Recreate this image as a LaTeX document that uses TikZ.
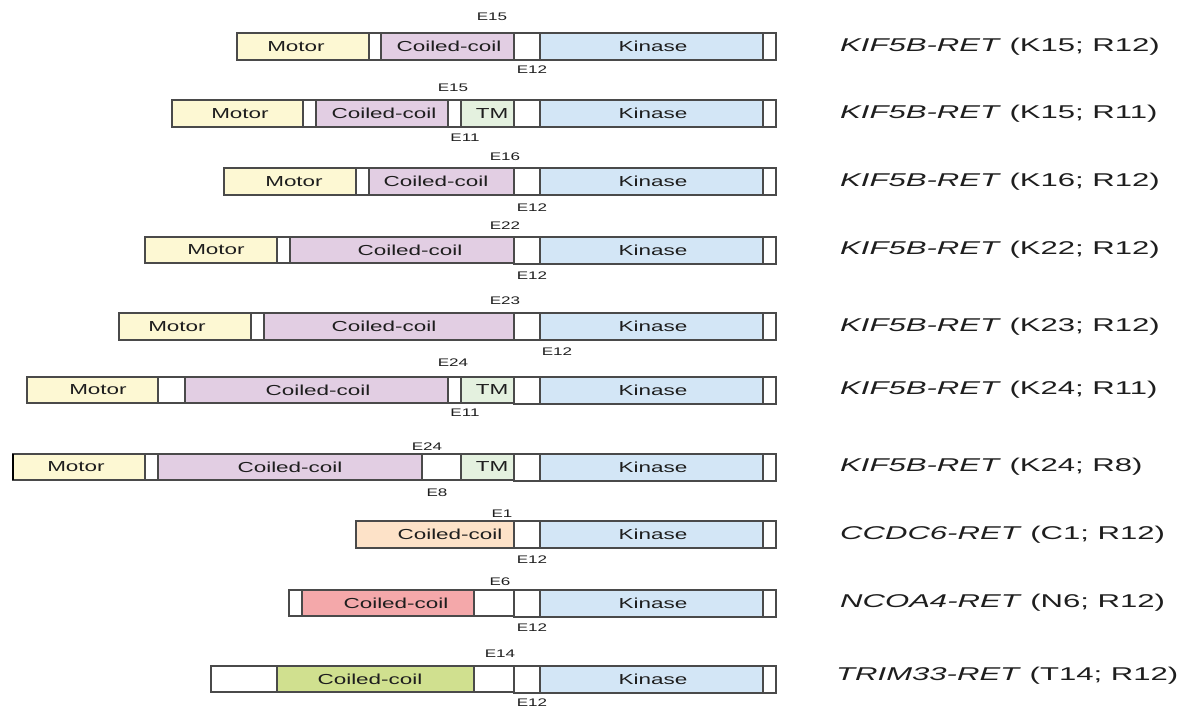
\documentclass[tikz,border=0pt]{standalone}
\usepackage{fontspec}
\setmainfont{Liberation Sans}[FakeStretch=1.55]
\newfontfamily\labfont{Liberation Sans}[FakeStretch=1.68]
\usepackage{tikz}
\usetikzlibrary{positioning}

\definecolor{motorc}{HTML}{FDF8D3}
\definecolor{coilc}{HTML}{E2CEE3}
\definecolor{kinc}{HTML}{D3E6F6}
\definecolor{tmc}{HTML}{E4F1DF}
\definecolor{ccdcc}{HTML}{FDE2C8}
\definecolor{ncoac}{HTML}{F4A8AA}
\definecolor{trimc}{HTML}{D0E08F}
\definecolor{edgec}{HTML}{4A4A4A}
\definecolor{txtc}{HTML}{1E1E1E}

\tikzset{
  seg/.style={draw=edgec, line width=1.3pt},
  boxtext/.style={font=\fontsize{14.5}{16}\selectfont, text=txtc, inner sep=0pt},
  exon/.style={font=\fontsize{11}{12}\selectfont, text=txtc, inner sep=0pt},
  fusion/.style={anchor=west, font=\labfont\fontsize{18.5}{20}\selectfont, text=txtc, inner sep=0pt}
}

\begin{document}
\begin{tikzpicture}[x=1pt, y=-1pt]
        \useasboundingbox (0,0) rectangle (1181,709);

        % RET part, the same in every row
        \foreach \t/\n in {33/1,100/2,168/3,237/4,313/5,377/6,454/7,521/8,590/9,666/10} {
            \draw[seg, fill=white] (514,\t) rectangle (540,\t+27);
            \draw[seg, fill=kinc] (540,\t) rectangle (763,\t+27);
            \draw[seg, fill=white] (763,\t) rectangle (776,\t+27);
            \node[boxtext] (kin\n) at (653,\t+13.5) {Kinase};
        }

        % Row 1: KIF5B-RET (K15; R12)
        \draw[seg, fill=motorc] (237,33) rectangle (369,60);
        \draw[seg, fill=white] (369,33) rectangle (381,60);
        \draw[seg, fill=coilc] (381,33) rectangle (514,60);
        \node[boxtext] (mot1) at (296,46.5) {Motor};
        \node[boxtext] (cc1) at (449,46.5) {Coiled-coil};
        \node[exon] (up1) at (492,17) {E15};
        \node[exon] (dn1) at (532,70) {E12};
        \node[fusion] (f1) at (840,46.5) {\textit{KIF5B-RET} (K15; R12)};

        % Row 2: KIF5B-RET (K15; R11)
        \draw[seg, fill=motorc] (172,100) rectangle (303,127);
        \draw[seg, fill=white] (303,100) rectangle (316,127);
        \draw[seg, fill=coilc] (316,100) rectangle (448,127);
        \draw[seg, fill=white] (448,100) rectangle (461,127);
        \draw[seg, fill=tmc] (461,100) rectangle (514,127);
        \node[boxtext] (mot2) at (240,113.5) {Motor};
        \node[boxtext] (cc2) at (384,113.5) {Coiled-coil};
        \node[boxtext] (tm2) at (492,113.5) {TM};
        \node[exon] (up2) at (453,88) {E15};
        \node[exon] (dn2) at (465,138) {E11};
        \node[fusion] (f2) at (840,113.5) {\textit{KIF5B-RET} (K15; R11)};

        % Row 3: KIF5B-RET (K16; R12)
        \draw[seg, fill=motorc] (224,168) rectangle (356,195);
        \draw[seg, fill=white] (356,168) rectangle (369,195);
        \draw[seg, fill=coilc] (369,168) rectangle (514,195);
        \node[boxtext] (mot3) at (294,181.5) {Motor};
        \node[boxtext] (cc3) at (436,181.5) {Coiled-coil};
        \node[exon] (up3) at (505,157) {E16};
        \node[exon] (dn3) at (532,208) {E12};
        \node[fusion] (f3) at (840,181.5) {\textit{KIF5B-RET} (K16; R12)};

        % Row 4: KIF5B-RET (K22; R12)
        \draw[seg, fill=motorc] (145,237) rectangle (277,263);
        \draw[seg, fill=white] (277,237) rectangle (290,263);
        \draw[seg, fill=coilc] (290,237) rectangle (514,263);
        \node[boxtext] (mot4) at (216,250) {Motor};
        \node[boxtext] (cc4) at (410,250) {Coiled-coil};
        \node[exon] (up4) at (505,226) {E22};
        \node[exon] (dn4) at (532,276) {E12};
        \node[fusion] (f4) at (840,250) {\textit{KIF5B-RET} (K22; R12)};

        % Row 5: KIF5B-RET (K23; R12)
        \draw[seg, fill=motorc] (119,313) rectangle (251,340);
        \draw[seg, fill=white] (251,313) rectangle (264,340);
        \draw[seg, fill=coilc] (264,313) rectangle (514,340);
        \node[boxtext] (mot5) at (177,326.5) {Motor};
        \node[boxtext] (cc5) at (384,326.5) {Coiled-coil};
        \node[exon] (up5) at (505,301) {E23};
        \node[exon] (dn5) at (557,352) {E12};
        \node[fusion] (f5) at (840,326.5) {\textit{KIF5B-RET} (K23; R12)};

        % Row 6: KIF5B-RET (K24; R11)
        \draw[seg, fill=motorc] (27,377) rectangle (158,403);
        \draw[seg, fill=white] (158,377) rectangle (185,403);
        \draw[seg, fill=coilc] (185,377) rectangle (448,403);
        \draw[seg, fill=white] (448,377) rectangle (461,403);
        \draw[seg, fill=tmc] (461,377) rectangle (514,403);
        \node[boxtext] (mot6) at (98,390) {Motor};
        \node[boxtext] (cc6) at (318,390) {Coiled-coil};
        \node[boxtext] (tm6) at (492,390) {TM};
        \node[exon] (up6) at (453,363) {E24};
        \node[exon] (dn6) at (465,413) {E11};
        \node[fusion] (f6) at (840,390) {\textit{KIF5B-RET} (K24; R11)};

        % Row 7: KIF5B-RET (K24; R8)
        \draw[seg, fill=motorc] (13,454) rectangle (145,480);
        \draw[seg, fill=white] (145,454) rectangle (158,480);
        \draw[seg, fill=coilc] (158,454) rectangle (422,480);
        \draw[seg, fill=white] (422,454) rectangle (461,480);
        \draw[seg, fill=tmc] (461,454) rectangle (514,480);
        \draw[line width=2.4pt, black] (13,454) -- (13,480);
        \node[boxtext] (mot7) at (76,467) {Motor};
        \node[boxtext] (cc7) at (290,467) {Coiled-coil};
        \node[boxtext] (tm7) at (492,467) {TM};
        \node[exon] (up7) at (427,447) {E24};
        \node[exon] (dn7) at (437,493) {E8};
        \node[fusion] (f7) at (840,467) {\textit{KIF5B-RET} (K24; R8)};

        % Row 8: CCDC6-RET (C1; R12)
        \draw[seg, fill=ccdcc] (356,521) rectangle (514,548);
        \node[boxtext] (cc8) at (450,534.5) {Coiled-coil};
        \node[exon] (up8) at (502,514) {E1};
        \node[exon] (dn8) at (532,560) {E12};
        \node[fusion] (f8) at (840,534.5) {\textit{CCDC6-RET} (C1; R12)};

        % Row 9: NCOA4-RET (N6; R12)
        \draw[seg, fill=white] (289,590) rectangle (302,616);
        \draw[seg, fill=ncoac] (302,590) rectangle (474,616);
        \draw[seg, fill=white] (474,590) rectangle (514,616);
        \node[boxtext] (cc9) at (396,603) {Coiled-coil};
        \node[exon] (up9) at (500,582) {E6};
        \node[exon] (dn9) at (532,628) {E12};
        \node[fusion] (f9) at (840,603) {\textit{NCOA4-RET} (N6; R12)};

        % Row 10: TRIM33-RET (T14; R12)
        \draw[seg, fill=white] (211,666) rectangle (277,692);
        \draw[seg, fill=trimc] (277,666) rectangle (474,692);
        \draw[seg, fill=white] (474,666) rectangle (514,692);
        \node[boxtext] (cc10) at (370,679) {Coiled-coil};
        \node[exon] (up10) at (500,654) {E14};
        \node[exon] (dn10) at (532,703) {E12};
        \node[fusion] (f10) at (836,676) {\textit{TRIM33-RET} (T14; R12)};
    \end{tikzpicture}
\end{document}
